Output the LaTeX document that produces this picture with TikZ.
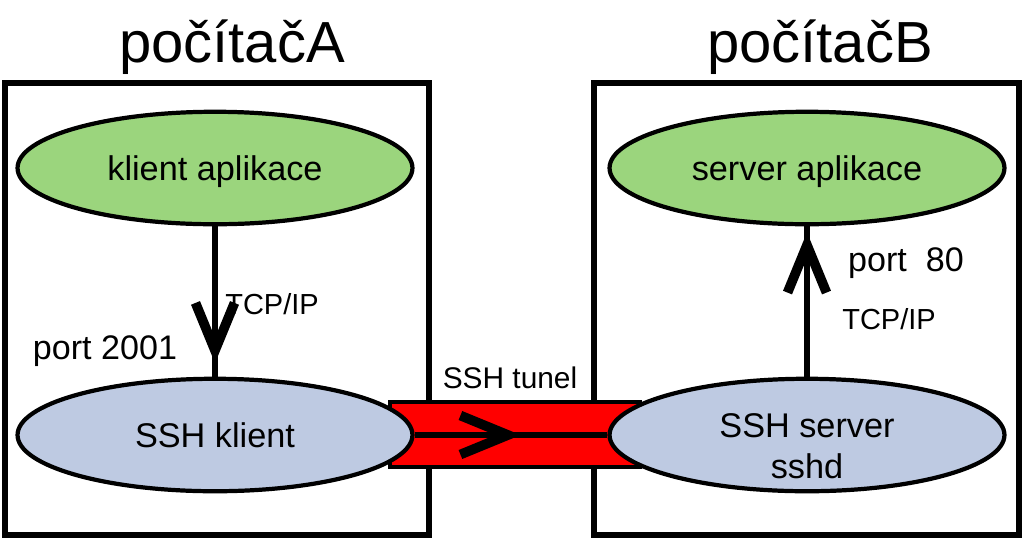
\documentclass[tikz,border=0pt]{standalone}
\usepackage{fontspec}
\setmainfont{Liberation Sans}
\usetikzlibrary{shapes.geometric, arrows.meta, positioning, decorations.markings}
\definecolor{appgreen}{RGB}{155,213,125}
\definecolor{sshblue}{RGB}{190,202,226}
\tikzset{
    % Computer frame - thick black rectangle
    computer box/.style={draw, line width=3pt},
    % Computer name above the frame
    computer title/.style={anchor=base, font=\fontsize{33}{38}\selectfont},
    % Application - green ellipse
    app node/.style={ellipse, draw, line width=2.4pt, fill=appgreen, inner sep=0pt,
        minimum width=7.9cm, minimum height=2.25cm, text depth=0pt, align=center,
        font=\fontsize{19.5}{23.4}\selectfont},
    % SSH endpoint - blue ellipse
    ssh node/.style={app node, fill=sshblue},
    % Two-line text inside an ellipse
    ssh text/.style={align=center, font=\fontsize{19.5}{23.4}\selectfont},
    % Port and protocol labels
    port label/.style={anchor=base, font=\fontsize{19.4}{23}\selectfont},
    proto label/.style={anchor=base, font=\fontsize{16.5}{20}\selectfont},
    tunnel label/.style={anchor=base, font=\fontsize{17}{20}\selectfont},
    % Connection line with an open arrow tip inside the path
    flow/.style={line width=3.8pt, postaction={decorate},
        decoration={markings, mark=at position #1 with
            {\arrow{Straight Barb[length=0.95cm, width=0.78cm, line width=5.5pt]}}}},
    % SSH tunnel - red band
    tunnel/.style={draw, line width=2.2pt, fill=red}
}

\begin{document}
\begin{tikzpicture}[x=0.02cm, y=-0.02cm]
    \useasboundingbox (0,0) rectangle (1024,542);

    % --- Computers ---
    \draw[computer box] (5,83) rectangle (429,535);
    \draw[computer box] (594,83) rectangle (1019,535);
    \node[computer title] (titleA) at (232,62) {počítačA};
    \node[computer title] (titleB) at (820,62) {počítačB};

    % --- Tunnel band (behind the SSH ellipses) ---
    \draw[tunnel] (390,402) rectangle (640,467);

    % --- Applications and SSH endpoints ---
    \node[app node] (klientApp) at (215,168) {klient aplikace};
    \node[app node] (serverApp) at (807,168) {server aplikace};
    \node[ssh node] (sshKlient) at (215,435) {SSH klient};
    \node[ssh node, label={[ssh text, yshift=-0.22cm]center:{SSH server\\sshd}}]
        (sshServer) at (807,435) {};

    % --- Connections ---
    \draw[flow=0.91] (klientApp.south) -- (sshKlient.north);
    \draw[flow=0.96] (sshServer.north) -- (serverApp.south);
    \draw[flow=0.55] (sshKlient.east) -- (sshServer.west);

    % --- Labels ---
    \node[proto label] (tcpA) at (272,314) {TCP/IP};
    \node[port label] (portA) at (105,359) {port 2001};
    \node[tunnel label] (tunelLabel) at (510,388) {SSH tunel};
    \node[port label, anchor=base west] (portB) at (842,271) {port\ \ 80};
    \node[proto label] (tcpB) at (889,329) {TCP/IP};
\end{tikzpicture}
\end{document}
